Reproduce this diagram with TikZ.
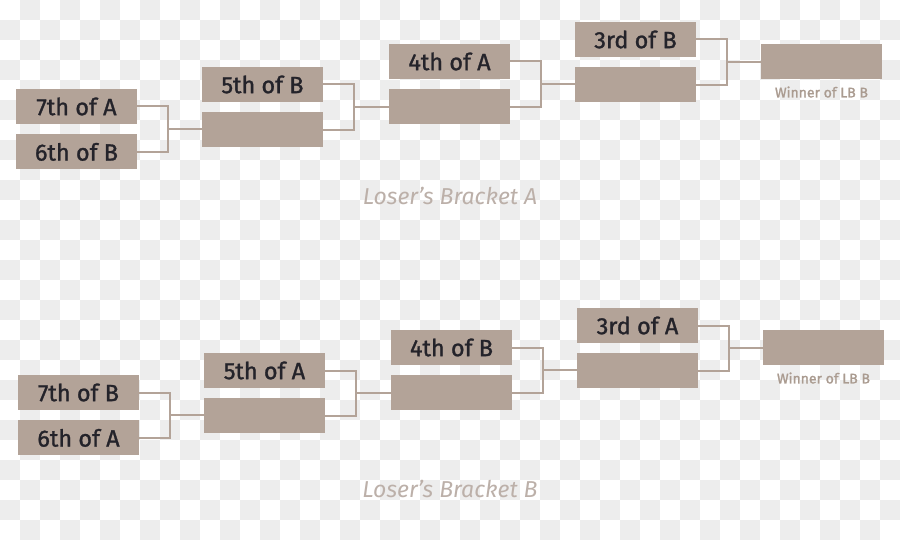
\documentclass[tikz,border=0pt]{standalone}
\usepackage{fontspec}
\setmainfont{Fira Sans}
\newfontfamily\slotfont[FakeBold=1.2]{Fira Sans}
\newfontfamily\notefont[FakeBold=1.5]{Fira Sans}
\definecolor{taupe}{RGB}{179,163,152}
\definecolor{ink}{RGB}{36,35,42}
\definecolor{faint}{RGB}{188,176,169}
\definecolor{tile}{RGB}{237,237,237}
\usetikzlibrary{positioning,calc}
\tikzset{
  slot/.style={fill=taupe, minimum width=121pt, minimum height=35pt, inner sep=0pt,
              font=\slotfont\fontsize{23.5}{23.5}\selectfont, text=ink},
  wire/.style={draw=taupe, line width=2pt},
  caption/.style={font=\fontsize{23}{23}\selectfont\itshape, text=faint},
  note/.style={font=\notefont\fontsize{14}{14}\selectfont, text=taupe!95!black},
}

\begin{document}
\begin{tikzpicture}[x=1pt,y=-1pt]
    % checkered backdrop
    \fill[white] (0,0) rectangle (900,540);
    \foreach \i in {0,...,44} \foreach \j in {0,...,26} {
      \ifodd\numexpr\i+\j\relax \fill[tile] (20*\i,20*\j) rectangle ++(20,20); \fi
    }
    \useasboundingbox (0,0) rectangle (900,540);
    % the two loser brackets
    \foreach \p/\q/\dx/\dy/\cy in {A/B/0/0/196,B/A/2/286/489} {
      \begin{scope}[shift={(\dx,\dy)}]
        \node[slot] (\p-r1a) at (76.5,106.5) {7th of \p};
        \node[slot,below=10pt of \p-r1a] (\p-r1b) {6th of \q};
        \node[slot] (\p-r2a) at (262.5,84.5) {5th of \q};
        \node[slot,below=10pt of \p-r2a] (\p-r2b) {};
        \node[slot] (\p-r3a) at (449.5,61.5) {4th of \p};
        \node[slot,below=10pt of \p-r3a] (\p-r3b) {};
        \node[slot] (\p-r4a) at (635.5,39.5) {3rd of \q};
        \node[slot,below=10pt of \p-r4a] (\p-r4b) {};
        \node[slot] (\p-win) at (821.5,61.75) {};
        \node[note,below=3.5pt of \p-win] (\p-winlbl) {Winner of LB B};
        \foreach \r in {1,2,3,4} {
          \coordinate (\p-j\r) at ($(\p-r\r a.east)!0.5!(\p-r\r b.east)+(31,0)$);
          \draw[wire] (\p-r\r a.east) -| (\p-j\r) |- (\p-r\r b.east);
        }
        \draw[wire] (\p-j1) -- (\p-j1 -| \p-r2b.west);
        \draw[wire] (\p-j2) -- (\p-j2 -| \p-r3b.west);
        \draw[wire] (\p-j3) -- (\p-j3 -| \p-r4b.west);
        \draw[wire] (\p-j4) -- (\p-j4 -| \p-win.west);
      \end{scope}
      \node[caption] (\p-cap) at (450,\cy) {Loser’s Bracket \p};
    }
\end{tikzpicture}
\end{document}
